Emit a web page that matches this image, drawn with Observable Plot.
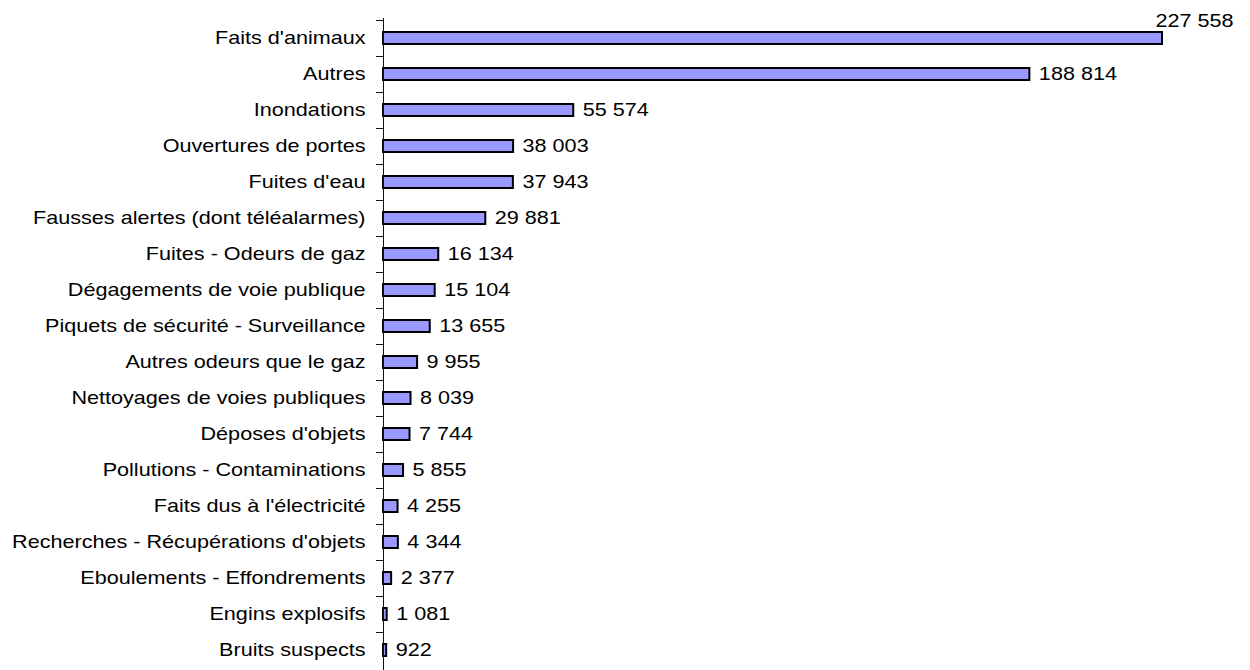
<!DOCTYPE html>
<html>
<head>
<meta charset="utf-8">
<script src="https://cdn.jsdelivr.net/npm/d3@7"></script>
<script src="https://cdn.jsdelivr.net/npm/@observablehq/plot@0.6"></script>
<style>
  html, body { margin: 0; padding: 0; background: #fff; overflow: hidden; }
</style>
</head>
<body>
<div id="chart"></div>
<script>
// Interventions diverses, par nature (ordre d'affichage de haut en bas)
const categories = [
  "Faits d'animaux",
  "Autres",
  "Inondations",
  "Ouvertures de portes",
  "Fuites d'eau",
  "Fausses alertes (dont téléalarmes)",
  "Fuites - Odeurs de gaz",
  "Dégagements de voie publique",
  "Piquets de sécurité - Surveillance",
  "Autres odeurs que le gaz",
  "Nettoyages de voies publiques",
  "Déposes d'objets",
  "Pollutions - Contaminations",
  "Faits dus à l'électricité",
  "Recherches - Récupérations d'objets",
  "Eboulements - Effondrements",
  "Engins explosifs",
  "Bruits suspects"
];
const values = [
  227558, 188814, 55574, 38003, 37943, 29881, 16134, 15104, 13655,
  9955, 8039, 7744, 5855, 4255, 4344, 2377, 1081, 922
];

const rows = categories.map((categorie, i) => ({categorie, valeur: values[i]}));

// Séparateur de milliers à la française
const fr = d3.formatLocale({decimal: ",", thousands: " ", grouping: [3], currency: ["", " €"]});
const fmt = fr.format(",d");

const PAD = 0.669;          // espace entre les barres (part de la bande)
const TEXT_STRETCH = 1.2;   // police légèrement élargie

// Petites graduations à gauche de l'axe, entre deux catégories
function boundaryTicks(index, scales) {
  const y = scales.y;
  const step = y(categories[1]) - y(categories[0]);
  const x0 = scales.x(0);
  const g = d3.create("svg:g").attr("stroke", "#111").attr("stroke-width", 1);
  for (const c of categories) {
    const yb = Math.round(y(c) - PAD * step / 2) + 0.5;
    g.append("line").attr("x1", x0 - 7).attr("x2", x0).attr("y1", yb).attr("y2", yb);
  }
  return g.node();
}

const chart = Plot.plot({
  width: 1250,
  height: 670,
  marginLeft: 383,
  marginRight: 88,
  marginTop: 18,
  marginBottom: 0,
  style: {
    fontFamily: "'Liberation Sans', Arial, sans-serif",
    fontSize: "18px",
    color: "#000",
    background: "#fff",
    overflow: "visible"
  },
  x: {domain: [0, d3.max(values)], axis: null},
  y: {domain: categories, paddingInner: PAD, paddingOuter: PAD / 2, axis: null, label: null},
  marks: [
    Plot.barX(rows, {x: "valeur", y: "categorie", fill: "#9999ff", stroke: "#000", strokeWidth: 2}),
    Plot.ruleX([0], {stroke: "#111", strokeWidth: 1}),
    boundaryTicks,
    Plot.axisY({tickSize: 0, tickPadding: 18, label: null}),
    Plot.text(rows.slice(1), {
      x: "valeur", y: "categorie", text: d => fmt(d.valeur),
      textAnchor: "start", dx: 9
    }),
    Plot.text(rows.slice(0, 1), {
      x: "valeur", y: "categorie", text: d => fmt(d.valeur),
      textAnchor: "start", dx: -7, dy: -17.5
    })
  ]
});

// Élargit chaque texte horizontalement autour de son point d'ancrage
chart.querySelectorAll("text").forEach(t => {
  const tr = t.getAttribute("transform") || "";
  t.setAttribute("transform", (tr + ` scale(${TEXT_STRETCH},1)`).trim());
});

document.getElementById("chart").append(chart);
</script>
</body>
</html>
